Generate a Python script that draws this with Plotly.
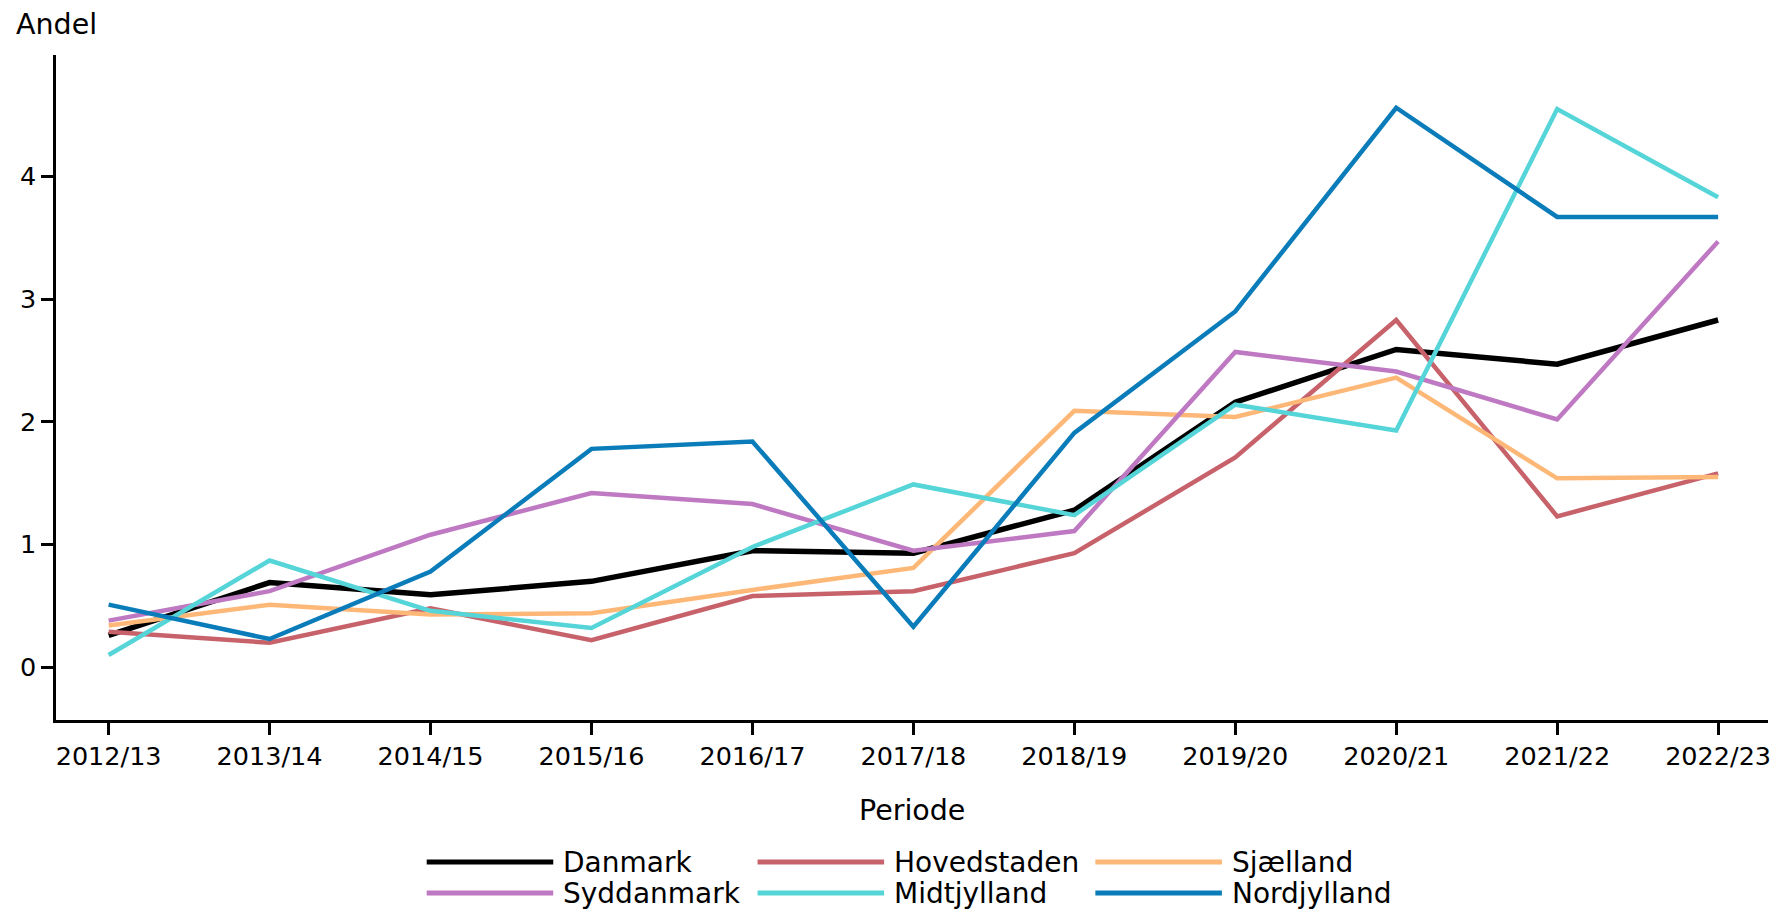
import plotly.graph_objects as go

periods = ["2012/13", "2013/14", "2014/15", "2015/16", "2016/17", "2017/18",
           "2018/19", "2019/20", "2020/21", "2021/22", "2022/23"]

danmark     = [0.26, 0.69, 0.59, 0.70, 0.95, 0.93, 1.28, 2.16, 2.59, 2.47, 2.83]
hovedstaden = [0.29, 0.20, 0.48, 0.22, 0.58, 0.62, 0.93, 1.71, 2.83, 1.23, 1.58]
sjaelland   = [0.34, 0.51, 0.43, 0.44, 0.63, 0.81, 2.09, 2.04, 2.36, 1.54, 1.55]
syddanmark  = [0.38, 0.62, 1.08, 1.42, 1.33, 0.95, 1.11, 2.57, 2.41, 2.02, 3.47]
midtjylland = [0.10, 0.87, 0.46, 0.32, 0.98, 1.49, 1.24, 2.14, 1.93, 4.55, 3.83]
nordjylland = [0.51, 0.23, 0.78, 1.78, 1.84, 0.33, 1.91, 2.90, 4.56, 3.67, 3.67]

series_names = ["Danmark", "Hovedstaden", "Sjælland", "Syddanmark", "Midtjylland", "Nordjylland"]
series_values = [danmark, hovedstaden, sjaelland, syddanmark, midtjylland, nordjylland]
colors = ["#000000", "#C7626B", "#FDB878", "#BF79C2", "#56D5D8", "#0A7CB9"]

# the page body adds an 8px offset; lay out in page pixels and convert
OFF = 8
PAGE_W, PAGE_H = 1789, 912
W, H = PAGE_W - OFF, PAGE_H - OFF
PLOT_L, PLOT_R, PLOT_T, PLOT_B = 50, 1768, 55, 720   # page pixels
ML, MT = PLOT_L - OFF, PLOT_T - OFF
MR = W - (PLOT_R - OFF)
MB = H - (PLOT_B - OFF)
PW, PH = PLOT_R - PLOT_L, PLOT_B - PLOT_T
FONT = "DejaVu Sans"


def px_x(x):
    return (x - PLOT_L) / PW


def px_y(y):
    return (PLOT_B - y) / PH


fig = go.Figure()
for name, vals, col in zip(series_names, series_values, colors):
    fig.add_trace(go.Scatter(
        x=list(range(len(periods))), y=vals, mode="lines", name=name,
        line=dict(color=col, width=5.5 if name == "Danmark" else 4.5),
        showlegend=False,
    ))

# manual legend (long line samples like the reference)
col_line_x = [422, 754, 1093]
line_len = 127
row_y = [862, 893]
for i, (name, col) in enumerate(zip(series_names, colors)):
    r, c = divmod(i, 3)
    x0 = col_line_x[c]
    y = row_y[r]
    fig.add_shape(type="line", xref="paper", yref="paper",
                  x0=px_x(x0), x1=px_x(x0 + line_len), y0=px_y(y), y1=px_y(y),
                  line=dict(color=col, width=5))
    fig.add_annotation(xref="paper", yref="paper", x=px_x(x0 + line_len + 9), y=px_y(y),
                       text=name, showarrow=False, xanchor="left", yanchor="middle",
                       borderpad=0,
                       font=dict(family=FONT, size=28, color="black"))

# axis titles
fig.add_annotation(xref="paper", yref="paper", x=px_x(8), y=px_y(24), text="Andel",
                   showarrow=False, xanchor="left", yanchor="middle",
                   font=dict(family=FONT, size=28.5, color="black"))
fig.add_annotation(xref="paper", yref="paper", x=0.5, y=px_y(810), text="Periode",
                   showarrow=False, xanchor="center", yanchor="middle",
                   font=dict(family=FONT, size=28.5, color="black"))

fig.update_layout(
    width=W, height=H,
    margin=dict(l=ML, r=MR, t=MT, b=MB, pad=0),
    paper_bgcolor="white", plot_bgcolor="white",
    font=dict(family=FONT, size=25.5, color="black"),
    showlegend=False,
)
fig.update_xaxes(
    tickmode="array", tickvals=list(range(len(periods))), ticktext=periods,
    range=[-0.327, 10.31], showgrid=False, zeroline=False,
    showline=True, linecolor="black", linewidth=2.5,
    ticks="outside", ticklen=12, tickwidth=2.5, tickcolor="black",
    tickfont=dict(family=FONT, size=25.5, color="black"),
)
fig.update_yaxes(
    tickvals=[0, 1, 2, 3, 4], range=[-0.43, 4.99], showgrid=False, zeroline=False,
    showline=True, linecolor="black", linewidth=2.5,
    ticks="outside", ticklen=12, tickwidth=2.5, tickcolor="black",
    tickfont=dict(family=FONT, size=25.5, color="black"),
)

fig.write_html("out.html")
